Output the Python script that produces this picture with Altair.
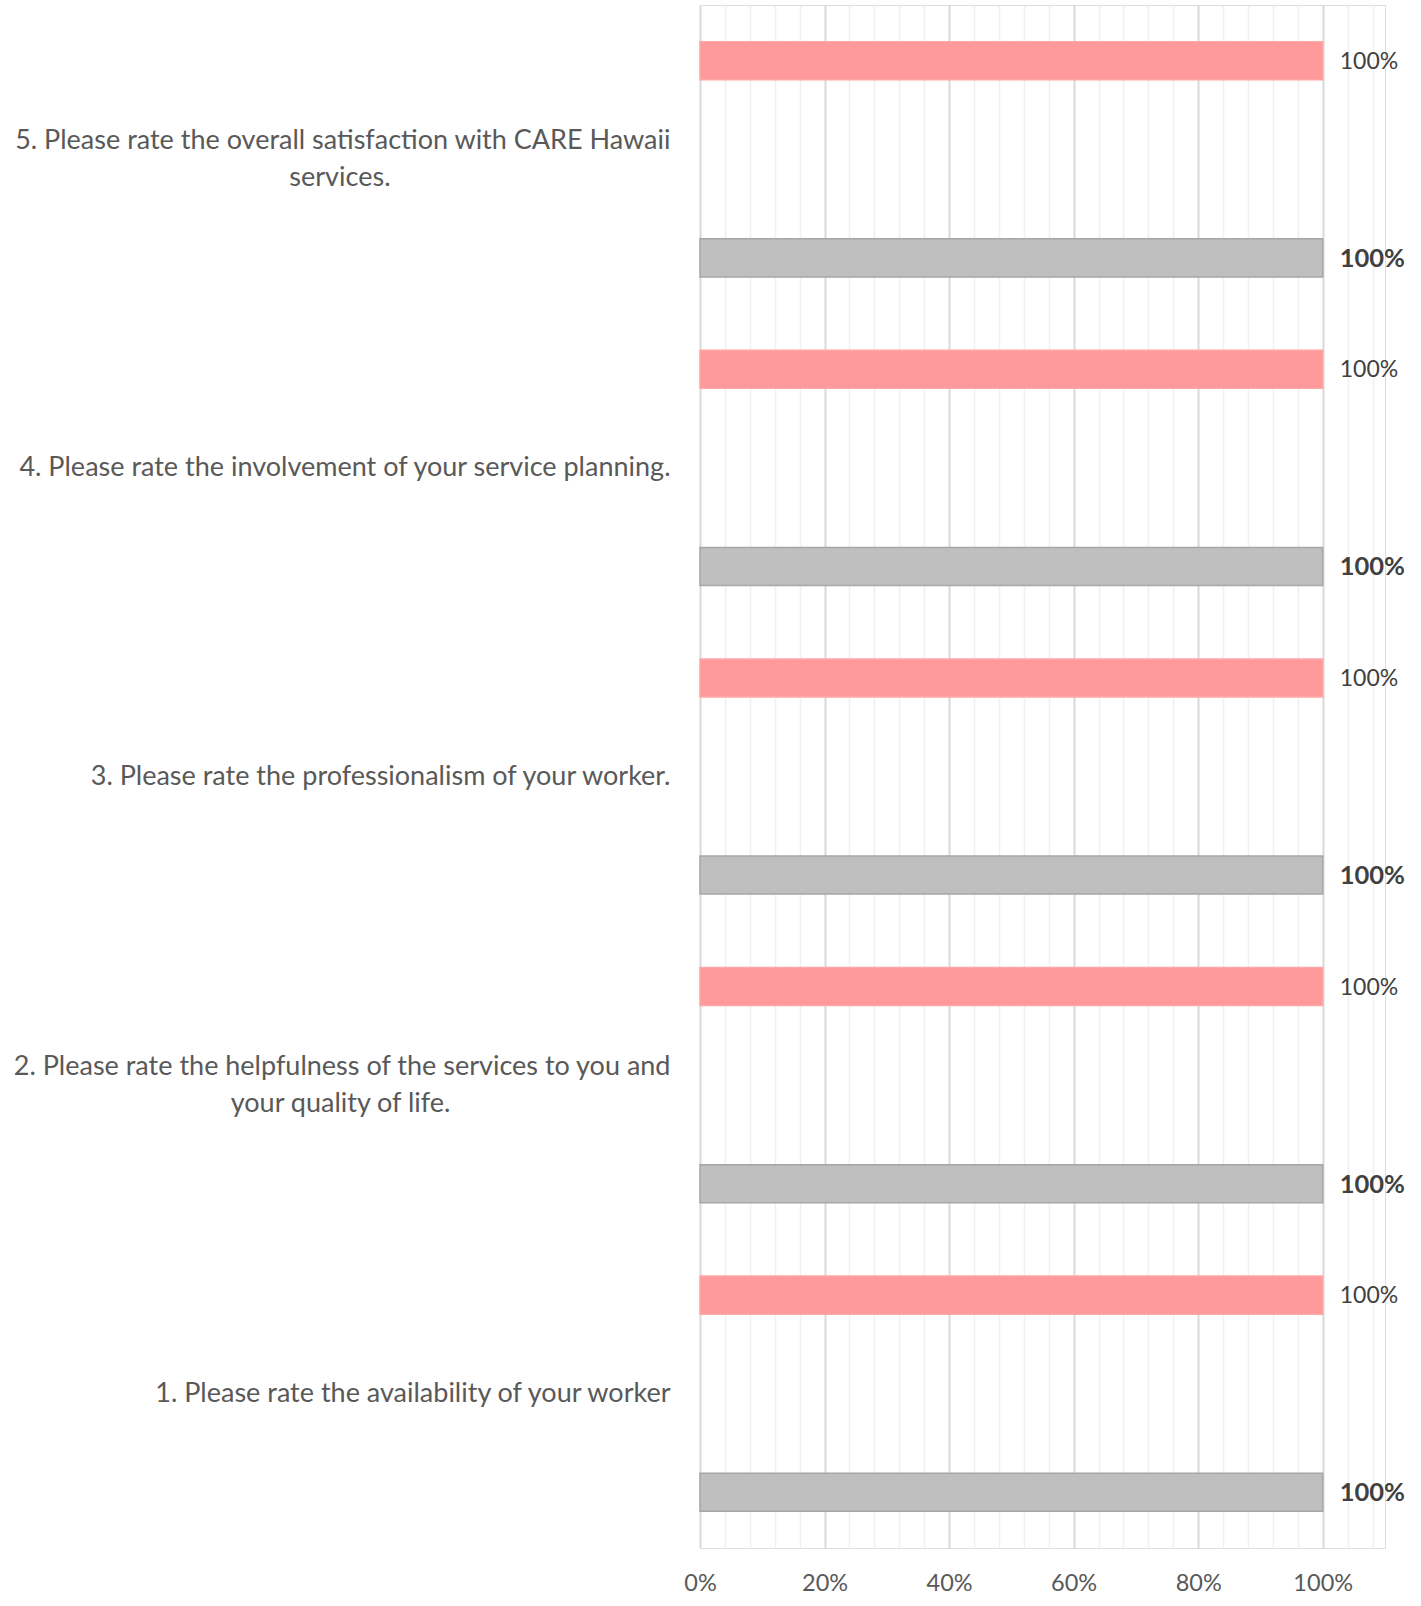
import altair as alt
import pandas as pd

# question text (first line, optional second line)
q_line1 = [
    "5. Please rate the overall satisfaction with CARE Hawaii",
    "4. Please rate the involvement of your service planning.",
    "3. Please rate the professionalism of your worker.",
    "2. Please rate the helpfulness of the services to you and",
    "1. Please rate the availability of your worker",
]
q_line2 = ["services.", "", "", "your quality of life.", ""]
series_names = ["Series A", "Series B"]
series_a = [1.0, 1.0, 1.0, 1.0, 1.0]
series_b = [1.0, 1.0, 1.0, 1.0, 1.0]
x_ticks = [round(i * 0.04, 2) for i in range(28)]

# second lines are centred under the first line: pad them with blank (braille) glyphs
BLANK = "\u2800"
pad_counts = [14, 0, 0, 11, 0]
questions = []
for l1, l2, n in zip(q_line1, q_line2, pad_counts):
    questions.append(l1 + ("\n" + l2 + BLANK * n if l2 else ""))

rows = []
for q, a, b in zip(questions, series_a, series_b):
    rows.append({"question": q, "series": series_names[0], "value": a})
    rows.append({"question": q, "series": series_names[1], "value": b})
df = pd.DataFrame(rows)

FONT = "Lato"
TXT = "#595959"
MAJOR = "round(datum.value*100) % 20 == 0"

y_enc = alt.Y(
    "question:N",
    sort=questions,
    title=None,
    scale=alt.Scale(paddingInner=0, paddingOuter=0),
    axis=alt.Axis(
        labelExpr="split(datum.label, '\\n')",
        labelFontSize=27,
        labelFont=FONT,
        labelColor=TXT,
        labelLimit=720,
        labelPadding=30,
        labelLineHeight=37,
        labelOffset={
            "condition": {"test": "indexof(datum.value, '\\n') >= 0", "value": -18},
            "value": 0,
        },
        ticks=False,
        domain=False,
        grid=False,
    ),
)
yoff = alt.YOffset(
    "series:N",
    sort=series_names,
    scale=alt.Scale(paddingInner=0.807, paddingOuter=0.186),
)
x_enc = alt.X(
    "value:Q",
    title=None,
    scale=alt.Scale(domain=[0, 1.1], nice=False, zero=True),
    axis=alt.Axis(
        values=x_ticks,
        tickCount=40,
        labelExpr=MAJOR + " ? format(datum.value, '.0%') : ''",
        labelFontSize=23.5,
        labelFont=FONT,
        labelColor=TXT,
        labelPadding=23,
        labelOverlap=False,
        labelFlush=False,
        ticks=False,
        domain=False,
        grid=True,
        gridColor={"condition": {"test": MAJOR, "value": "#d9d9d9"}, "value": "#f0f0f0"},
        gridWidth={"condition": {"test": MAJOR, "value": 2}, "value": 1.5},
    ),
)

base = alt.Chart(df)

bars = base.mark_bar(strokeWidth=1.5).encode(
    x=x_enc,
    y=y_enc,
    yOffset=yoff,
    color=alt.Color(
        "series:N",
        scale=alt.Scale(domain=series_names, range=["#FF999A", "#BFBFBF"]),
        legend=None,
    ),
    stroke=alt.Stroke(
        "series:N",
        scale=alt.Scale(domain=series_names, range=["#FFA6A6", "#A6A6A6"]),
        legend=None,
    ),
)

lab_a = base.transform_filter(alt.datum.series == series_names[0]).mark_text(
    align="left", baseline="middle", dx=17, dy=1, fontSize=23, font=FONT, color="#404040"
).encode(
    x=x_enc, y=y_enc, yOffset=yoff,
    text=alt.Text("value:Q", format=".0%"),
)
lab_b = base.transform_filter(alt.datum.series == series_names[1]).mark_text(
    align="left", baseline="middle", dx=17, dy=1, fontSize=25.5, font=FONT, fontWeight="bold", color="#404040"
).encode(
    x=x_enc, y=y_enc, yOffset=yoff,
    text=alt.Text("value:Q", format=".0%"),
)

chart = (
    alt.layer(bars, lab_a, lab_b)
    .properties(
        width=685,
        height=1543,
        autosize=alt.AutoSizeParams(type="none"),
        padding={"left": 700, "top": 5, "right": 36, "bottom": 58},
    )
    .configure_view(stroke="#b3b3b3", strokeWidth=2)
    .configure(background="white")
)

chart.save("out.html", embed_options={"renderer": "svg", "actions": False})
